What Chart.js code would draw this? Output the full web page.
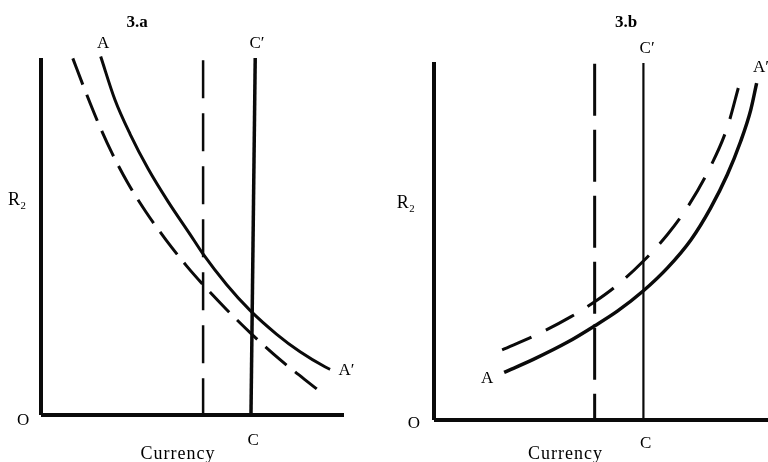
<!DOCTYPE html>
<html>
<head>
<meta charset="utf-8">
<script src="https://cdn.jsdelivr.net/npm/chart.js@4.4.1/dist/chart.umd.min.js"></script>
<style>
  html,body{margin:0;padding:0;background:#fff;}
  #wrap{display:flex;width:768px;height:462px;}
  canvas{display:block;}
</style>
</head>
<body>
<div id="wrap">
  <canvas id="ca" width="384" height="462"></canvas>
  <canvas id="cb" width="384" height="462"></canvas>
</div>
<script>
// ---------- Panel 3.a data (abstract units 0..100) ----------
const aSolidX = [19.7, 24.4, 29.4, 35.4, 42.0, 49.2, 53.4, 61.3, 69.0, 77.8, 85.5, 93.7, 95.4];
const aSolidY = [100.4, 88.3, 78.7, 68.9, 59.7, 50.6, 45.2, 36.5, 29.3, 22.6, 17.7, 13.5, 12.8];
const aDashX  = [10.5, 14.5, 18.8, 23.4, 28.7, 34.7, 41.3, 48.1, 53.6, 61.3, 69.6, 78.9, 91.0];
const aDashY  = [99.9, 91.0, 82.0, 73.4, 64.9, 56.8, 49.0, 41.7, 36.4, 29.5, 22.6, 15.5, 7.3];
const aDashVertX = [53.5, 53.5];
const aDashVertY = [99.4, 0];
const aSolidVertX = [69.3, 70.7];
const aSolidVertY = [0, 100];

// ---------- Panel 3.b data ----------
const bSolidX = [21.0, 29.9, 39.9, 48.1, 54.9, 62.7, 69.9, 76.9, 82.8, 87.8, 91.8, 94.8, 96.6];
const bSolidY = [13.3, 17.0, 21.7, 26.3, 30.4, 36.1, 42.5, 50.3, 59.2, 68.5, 77.8, 86.5, 94.1];
const bDashX  = [20.4, 30.9, 40.9, 48.1, 54.9, 62.7, 69.9, 75.8, 82.3, 87.8, 91.3];
const bDashY  = [19.6, 23.9, 28.8, 33.0, 37.7, 44.4, 51.8, 59.3, 69.9, 81.7, 93.4];
const bDashVertX = [48.1, 48.1];
const bDashVertY = [99.5, 0];
const bSolidVertX = [62.7, 62.7];
const bSolidVertY = [0, 99.7];

// axes
const axisX = [0, 100];
const axisY = [0, 100];

// ---------- text labels ----------
const aLabelText = ["3.a", "A", "C\u2032", "R\u2082", "O", "C", "Currency", "A\u2032"];
const aLabelX    = [31.7, 20.5, 71.3, -7.9, -5.9, 70.0, 45.2, 98.2];
const aLabelY    = [108.7, 102.8, 102.8, 58.8, -2.8, -8.4, -12.3, 11.2];
const bLabelText = ["3.b", "C\u2032", "A\u2032", "R\u2082", "A", "O", "C", "Currency"];
const bLabelX    = [57.5, 63.8, 95.5, -8.4, 15.9, -6.0, 63.4, 39.4];
const bLabelY    = [109.8, 102.5, 97.2, 59.2, 10.3, -2.2, -7.8, -10.9];

const SERIF = '"Liberation Serif", "DejaVu Serif", serif';

function pts(xs, ys){ return xs.map((x,i)=>({x:x, y:ys[i]})); }

const labelPlugin = {
  id: 'textLabels',
  afterDatasetsDraw(chart, args, opts){
    const ctx = chart.ctx;
    const sx = chart.scales.x, sy = chart.scales.y;
    ctx.save();
    ctx.fillStyle = '#000';
    ctx.textBaseline = 'alphabetic';
    opts.texts.forEach((t, i) => {
      let font = '17px ' + SERIF;
      let align = 'center';
      ctx.letterSpacing = '0px';
      if (t.indexOf('3.') === 0) font = 'bold 17px ' + SERIF;
      if (t === 'Currency') { font = '18px ' + SERIF; ctx.letterSpacing = '1px'; }
      if (t === 'R\u2082') font = '18px ' + SERIF;
      if (t === 'A\u2032') align = 'left';
      ctx.font = font;
      ctx.textAlign = align;
      ctx.fillText(t, sx.getPixelForValue(opts.xs[i]), sy.getPixelForValue(opts.ys[i]));
    });
    ctx.restore();
  }
};

function lineDs(data, width, dash, smooth){
  return {
    data: data,
    showLine: true,
    borderColor: '#0a0a0a',
    borderWidth: width,
    borderDash: dash || [],
    borderCapStyle: 'butt',
    pointRadius: 0,
    pointHoverRadius: 0,
    fill: false,
    clip: false,
    tension: smooth ? 0.4 : 0,
    cubicInterpolationMode: smooth ? 'monotone' : 'default'
  };
}

function makeChart(id, datasets, padding, lx, ly, lt){
  return new Chart(document.getElementById(id), {
    type: 'scatter',
    data: { datasets: datasets },
    options: {
      responsive: false,
      animation: false,
      layout: { padding: padding },
      scales: {
        x: { type: 'linear', min: 0, max: 100, display: false },
        y: { type: 'linear', min: 0, max: 100, display: false }
      },
      plugins: {
        legend: { display: false },
        tooltip: { enabled: false },
        textLabels: { texts: lt, xs: lx, ys: ly }
      },
      events: []
    },
    plugins: [labelPlugin]
  });
}

// Panel a
makeChart('ca', [
  lineDs(pts([0,0], axisY), 4),
  lineDs(pts(axisX, [0,0]), 4),
  lineDs(pts(aDashVertX, aDashVertY), 2.5, [38, 15]),
  lineDs(pts(aSolidVertX, aSolidVertY), 3.5),
  lineDs(pts(aSolidX, aSolidY), 3, [], true),
  lineDs(pts(aDashX, aDashY), 3, [28, 11], true)
], {left: 41, right: 40, top: 58, bottom: 47}, aLabelX, aLabelY, aLabelText);

// Panel b
makeChart('cb', [
  lineDs(pts([0,0], axisY), 4),
  lineDs(pts(axisX, [0,0]), 4),
  lineDs(pts(bDashVertX, bDashVertY), 3, [52, 14]),
  lineDs(pts(bSolidVertX, bSolidVertY), 2.2),
  lineDs(pts(bSolidX, bSolidY), 3.5, [], true),
  lineDs(pts(bDashX, bDashY), 3, [32, 16], true)
], {left: 50, right: 0, top: 62, bottom: 42}, bLabelX, bLabelY, bLabelText);
</script>
</body>
</html>
